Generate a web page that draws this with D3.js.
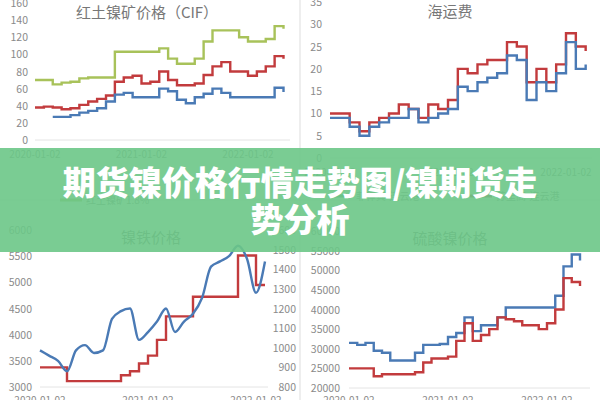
<!DOCTYPE html>
<html><head><meta charset="utf-8">
<script src="https://cdn.jsdelivr.net/npm/d3@7"></script>
<style>body{margin:0;background:#fff}svg{display:block}text{font-family:"Noto Sans CJK SC","Noto Sans",sans-serif}</style>
</head><body><svg id="c" width="600" height="400"></svg>
<script>
// monthly values, Jan 2020 onwards
const lateriteGreen = [70,70,65,67,68,72,73,73,73,103,103,103,103,103,107,95,89,89,95,115,128,128,128,120,115,115,118,133,130];
const lateriteRed = [38,39,38,36,37,41,45,48,52,68,73,75,66,68,80,70,64,64,66,76,86,91,80,80,75,80,86,98,95];
const lateriteBlue = [null,null,27,27,29,32,34,37,45,53,55,50,50,50,60,57,47,43,50,54,60,55,50,50,50,50,50,61,56];
const freightRed = [10,10,8,6,8,9,10,12,11,9,12,11,13,20,19,21,22,22,26,25,17,20,17,21,28,25,24];
const freightBlue = [9,9,7,5,7,8,9,9,11,8,9,10,11,16,15,17,18,19,23,22,13,17,15,19,26,20,21];
const nickelIronBlue = [3700,3600,3500,3300,3700,3800,3650,3700,4300,4450,4500,3900,4050,4250,4500,4050,4250,4400,4700,5300,5400,5500,5700,5450,4800,5400];
const nickelIronRed = [900,900,900,830,830,830,830,830,830,860,880,920,960,1040,1160,1160,1160,1260,1260,1260,1260,1260,1470,1470,1320,1320];
const sulfateBlue = [31500,31000,31500,29500,29000,27000,27000,27000,29000,31000,31000,31200,33000,34000,38000,34500,36000,36000,38000,40500,40500,40500,40500,40500,40500,43500,51000,54000,52500];
const sulfateRed = [25000,25000,25000,23000,23500,23500,23500,23500,24000,26500,27500,27500,28000,32000,36500,32000,33500,35000,38000,37500,37000,36000,36000,35000,36500,40000,48000,47000,46000];
const dateLabels = ["2020-01-02","2021-01-02","2022-01-02"];

const BLUE="#4a7ab5", RED="#c23b3d", GREEN="#a8c25a", GREY="#8a8a8a";
const svg = d3.select("#c");

// panel frames
svg.append("line").attr("x1",300).attr("x2",300).attr("y1",0).attr("y2",400).attr("stroke","#ddd");
svg.append("line").attr("x1",0).attr("x2",600).attr("y1",200).attr("y2",200).attr("stroke","#ddd");

function panel(o){
  const g = svg.append("g");
  const x = d3.scaleLinear().domain([0,12]).range([o.x0, o.x0+o.pxYear]);
  const y = d3.scaleLinear().domain(o.yDom).range(o.yRange);
  const yt = d3.range(o.yDom[0], o.yDom[1]+1, o.yStep);
  g.selectAll(".yl").data(yt).enter().append("text")
    .attr("x",o.yLabX).attr("y",d=>y(d)+4).attr("text-anchor","end")
    .attr("font-size",10.5).attr("fill",GREY).text(d=>d);
  g.append("line").attr("x1",x(0)).attr("x2",o.x1).attr("y1",y(o.yDom[0])).attr("y2",y(o.yDom[0])).attr("stroke","#e4e4e4");
  if(o.y2){
    const y2 = d3.scaleLinear().domain(o.y2.dom).range(o.y2.range);
    g.selectAll(".yr").data(d3.range(o.y2.dom[0], o.y2.dom[1]+1, o.y2.step)).enter().append("text")
      .attr("x",o.y2.x).attr("y",d=>y2(d)+4).attr("text-anchor","end")
      .attr("font-size",10.5).attr("fill",GREY).text(d=>d);
    o.series.forEach(s=>{ if(s.right) s.scale=y2; });
  }
  g.selectAll(".xl").data(dateLabels).enter().append("text")
    .attr("x",(d,i)=>x(i*12)).attr("y",o.xLabY).attr("text-anchor","middle")
    .attr("font-size",10).attr("fill",GREY).text(d=>d);
  g.append("text").attr("x",o.titleX).attr("y",o.titleY).attr("text-anchor","middle")
    .attr("font-size",15).attr("fill","#777").text(o.title);
  o.series.forEach(s=>{
    const sc = s.scale || y;
    const line = d3.line().defined(d=>d!=null).x((d,i)=>x(i)).y(d=>sc(d))
      .curve(s.smooth ? d3.curveMonotoneX : d3.curveStepAfter);
    g.append("path").datum(s.data).attr("d",line).attr("fill","none")
      .attr("stroke",s.color).attr("stroke-width",2.4);
  });
  return g;
}

panel({x0:35,pxYear:106.5,x1:290,yDom:[0,160],yStep:20,yRange:[140,3],yLabX:28,xLabY:158,
  title:"红土镍矿价格（CIF）",titleX:147,titleY:18,
  series:[{data:lateriteGreen,color:GREEN},{data:lateriteRed,color:RED},{data:lateriteBlue,color:BLUE}]});
panel({x0:330,pxYear:118,x1:592,yDom:[0,35],yStep:5,yRange:[158,2],yLabX:322,xLabY:176,
  title:"海运费",titleX:450,titleY:17,
  series:[{data:freightRed,color:RED},{data:freightBlue,color:BLUE}]});
panel({x0:40,pxYear:108,x1:268,yDom:[3000,6000],yStep:500,yRange:[387,230],yLabX:32,xLabY:404,
  title:"镍铁价格",titleX:151,titleY:243,
  y2:{dom:[800,1600],step:100,range:[387,230],x:296},
  series:[{data:nickelIronRed,color:RED,right:true},{data:nickelIronBlue,color:BLUE,smooth:true}]});
panel({x0:349,pxYear:99,x1:590,yDom:[20000,60000],yStep:5000,yRange:[388,231],yLabX:340,xLabY:404,
  title:"硫酸镍价格",titleX:450,titleY:244,
  series:[{data:sulfateBlue,color:BLUE},{data:sulfateRed,color:RED}]});

// legends (mostly hidden behind the banner)
svg.append("line").attr("x1",60).attr("x2",82).attr("y1",200).attr("y2",200).attr("stroke",GREEN).attr("stroke-width",3);
svg.append("text").attr("x",86).attr("y",204).attr("font-size",10).attr("fill",GREY).text("红土镍矿1.8%");
svg.append("line").attr("x1",330).attr("x2",352).attr("y1",196).attr("y2",196).attr("stroke","#4a9a7a").attr("stroke-width",3);
svg.append("text").attr("x",356).attr("y",200).attr("font-size",10).attr("fill",GREY).text("菲律宾-连云港");
svg.append("line").attr("x1",470).attr("x2",492).attr("y1",196).attr("y2",196).attr("stroke",RED).attr("stroke-width",3);
svg.append("text").attr("x",496).attr("y",200).attr("font-size",10).attr("fill",GREY).text("苏里高-连云港");

// banner
svg.append("rect").attr("x",0).attr("y",148).attr("width",600).attr("height",104).attr("fill","#6cc687").attr("opacity",0.9);
const banner = ["期货镍价格行情走势图/镍期货走","势分析"];
svg.selectAll(".bn").data(banner).enter().append("text")
  .attr("x",300).attr("y",(d,i)=>195+i*37).attr("text-anchor","middle")
  .attr("font-size",33).attr("font-weight",900).attr("fill","#fff").text(d=>d);
</script></body></html>
